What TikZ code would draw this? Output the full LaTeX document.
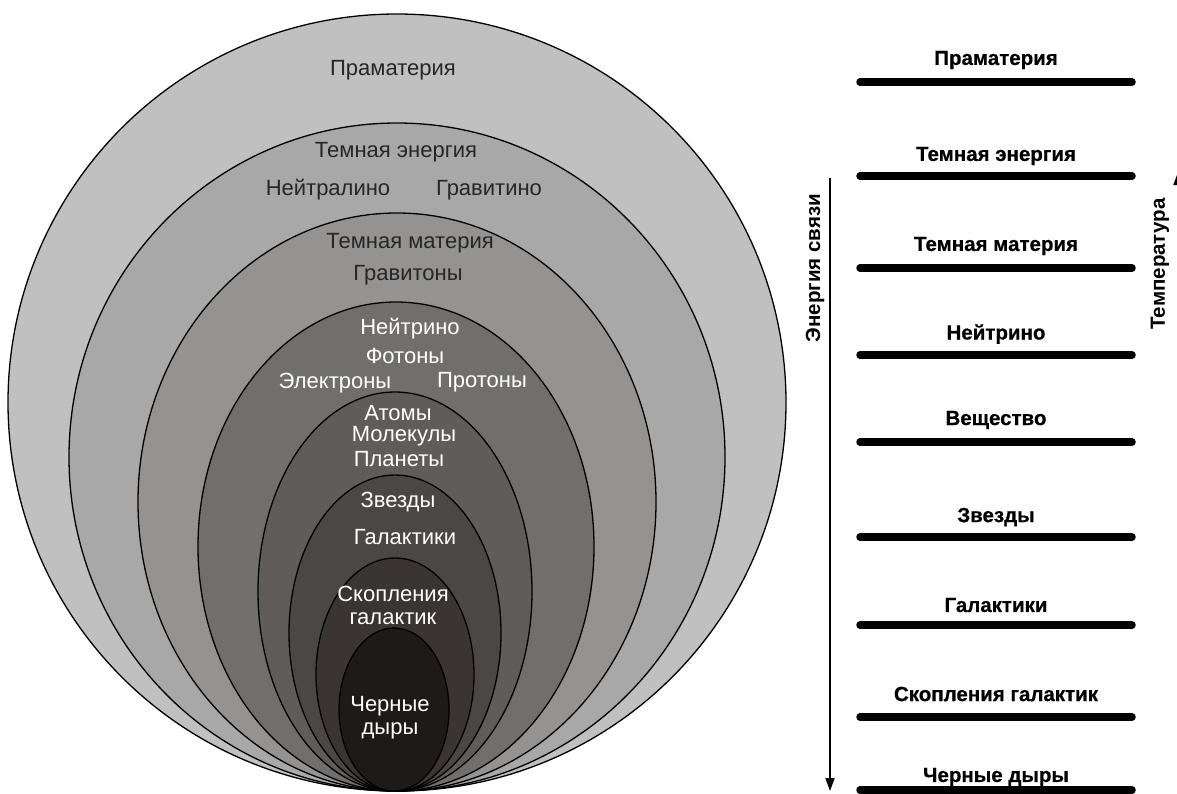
\documentclass[tikz,border=0pt]{standalone}
\usepackage{fontspec}
\setmainfont{Liberation Sans}
\newfontfamily\heavyfont{Liberation Sans Bold}[FakeBold=0.6]
\usetikzlibrary{arrows.meta}
\definecolor{cA}{RGB}{192,192,192}
\definecolor{cB}{RGB}{168,168,168}
\definecolor{cC}{RGB}{148,147,146}
\definecolor{cD}{RGB}{112,111,110}
\definecolor{cE}{RGB}{96,92,91}
\definecolor{cF}{RGB}{75,71,70}
\definecolor{cG}{RGB}{58,53,51}
\definecolor{cH}{RGB}{30,26,24}
\definecolor{darktext}{RGB}{38,38,38}
\tikzset{
  shell/.style={draw=black, line width=1.3pt},
  dtext/.style={text=darktext, font=\fontsize{22}{26}\selectfont, inner sep=0pt},
  wtext/.style={text=white, font=\fontsize{22}{26}\selectfont, inner sep=0pt},
  lvl/.style={font=\heavyfont\fontsize{20.5}{24}\selectfont, inner sep=0pt},
  bar/.style={line width=7.5pt, line cap=round},
  axis/.style={line width=1.6pt, -{Triangle[length=13pt,width=9pt]}},
  axlabel/.style={font=\bfseries\fontsize{20.5}{24}\selectfont, inner sep=0pt, rotate=90}
}
\begin{document}
\begin{tikzpicture}[x=1pt,y=-1pt]
\clip (0,0) rectangle (1177,793);
\fill[white] (0,0) rectangle (1177,793);
% nested shells
\filldraw[shell, fill=cA] (397,402.5) ellipse [x radius=389, y radius=388.5];
\filldraw[shell, fill=cB] (397,457) ellipse [x radius=328, y radius=334];
\filldraw[shell, fill=cC] (397,502) ellipse [x radius=259, y radius=289];
\filldraw[shell, fill=cD] (396,546.5) ellipse [x radius=198, y radius=244.5];
\filldraw[shell, fill=cE] (395,591.5) ellipse [x radius=137, y radius=199.5];
\filldraw[shell, fill=cF] (395,633) ellipse [x radius=106, y radius=158];
\filldraw[shell, fill=cG] (395,674.5) ellipse [x radius=79, y radius=116.5];
\filldraw[shell, fill=cH] (394,709.5) ellipse [x radius=55, y radius=81.5];
% texts in shells
\node[dtext] (pram) at (393,70) {Праматерия};
\node[dtext] (tenerg) at (396,152) {Темная энергия};
\node[dtext] (neitral) at (328,190) {Нейтралино};
\node[dtext] (gravitino) at (489,190) {Гравитино};
\node[dtext] (tmat) at (410,243) {Темная материя};
\node[dtext] (graviton) at (408,275) {Гравитоны};
\node[wtext] (neitr) at (410,329) {Нейтрино};
\node[wtext] (foton) at (405,356) {Фотоны};
\node[wtext] (elektr) at (335,383) {Электроны};
\node[wtext] (proton) at (482,382) {Протоны};
\node[wtext] (atom) at (398,413) {Атомы};
\node[wtext] (molek) at (404,436) {Молекулы};
\node[wtext] (planet) at (399,459) {Планеты};
\node[wtext] (zvezd) at (398,502) {Звезды};
\node[wtext] (galakt) at (405,537) {Галактики};
\node[wtext] (skopl) at (393,594) {Скопления};
\node[wtext] (skopl2) at (393,619) {галактик};
\node[wtext] (cher) at (390,706) {Черные};
\node[wtext] (dyry) at (390,731) {дыры};
% right-hand levels
\foreach \name/\txt/\ty/\ly in {
  l1/Праматерия/60/82,
  l2/Темная энергия/156/176,
  l3/Темная материя/246/268,
  l4/Нейтрино/334/355,
  l5/Вещество/420/442,
  l6/Звезды/517/537,
  l7/Галактики/605/625,
  l8/Скопления галактик/694/717,
  l9/Черные дыры/777/790}{
  \node[lvl] (\name) at (996,\ty) {\txt};
  \coordinate (\name a) at (860,\ly);
  \coordinate (\name b) at (1132,\ly);
  \draw[bar] (\name a) -- (\name b);
}
% axes
\coordinate (eTop) at (830,178);
\coordinate (eBot) at (830,791);
\draw[axis] (eTop) -- (eBot);
\node[axlabel] (energy) at (815,268) {Энергия связи};
\coordinate (tBot) at (1178,793);
\coordinate (tTop) at (1178,172);
\draw[axis] (tBot) -- (tTop);
\node[axlabel] (temp) at (1160,264) {Температура};
\end{tikzpicture}
\end{document}
